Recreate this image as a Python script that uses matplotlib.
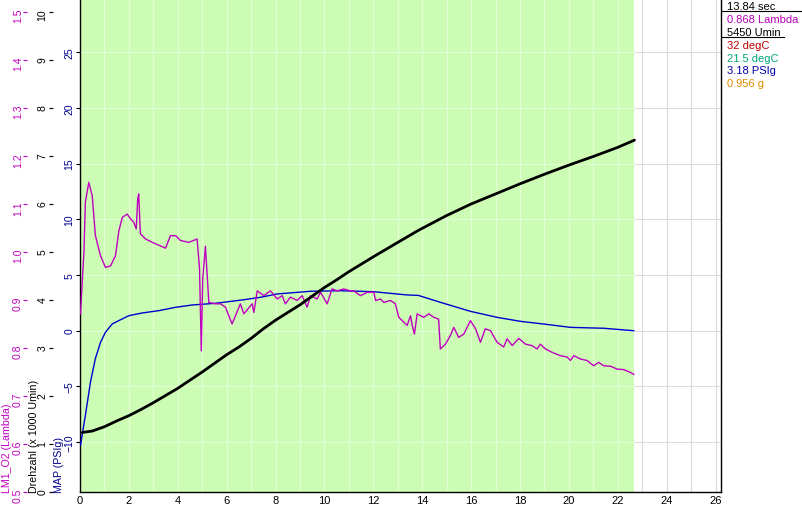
import numpy as np
import matplotlib
matplotlib.use('Agg')
import matplotlib.pyplot as plt
from matplotlib.lines import Line2D

plt.rcParams['font.family'] = ['Liberation Sans', 'DejaVu Sans']

# ---------------- data ----------------
t_end = 22.68  # end of the recording (s)

lam_t = [0.02, 0.16, 0.22, 0.36, 0.50, 0.63, 0.84, 1.04, 1.25, 1.45, 1.59, 1.73, 1.93, 2.07, 2.20,
         2.30, 2.36, 2.40, 2.47, 2.68, 3.09, 3.50, 3.70, 3.91, 4.11, 4.45, 4.79, 4.89, 4.96, 5.02,
         5.13, 5.27, 5.54, 5.75, 5.95, 6.22, 6.56, 6.70, 7.04, 7.11, 7.25, 7.52, 7.79, 8.07, 8.27,
         8.40, 8.61, 8.88, 9.09, 9.29, 9.43, 9.70, 9.84, 10.11, 10.31, 10.52, 10.79, 11.06, 11.20,
         11.47, 11.75, 12.02, 12.09, 12.29, 12.43, 12.70, 12.90, 13.04, 13.24, 13.38, 13.52, 13.59,
         13.68, 13.79, 14.06, 14.27, 14.47, 14.67, 14.74, 14.95, 15.15, 15.29, 15.49, 15.70, 15.97,
         16.18, 16.38, 16.58, 16.79, 17.06, 17.33, 17.47, 17.68, 17.95, 18.22, 18.49, 18.70, 18.83,
         19.04, 19.31, 19.65, 19.93, 20.06, 20.20, 20.47, 20.74, 21.01, 21.22, 21.42, 21.70, 21.97,
         22.24, 22.52, 22.65]
lam_v = [0.871, 0.999, 1.104, 1.145, 1.117, 1.034, 0.992, 0.968, 0.971, 0.992, 1.044, 1.072, 1.079,
         1.069, 1.062, 1.048, 1.110, 1.121, 1.038, 1.027, 1.017, 1.008, 1.034, 1.034, 1.024, 1.020,
         1.027, 0.965, 0.794, 0.944, 1.012, 0.895, 0.892, 0.892, 0.885, 0.850, 0.892, 0.871, 0.892,
         0.874, 0.919, 0.909, 0.919, 0.902, 0.909, 0.892, 0.906, 0.899, 0.909, 0.885, 0.909, 0.902,
         0.916, 0.892, 0.923, 0.919, 0.923, 0.919, 0.919, 0.909, 0.916, 0.916, 0.899, 0.902, 0.895,
         0.899, 0.892, 0.864, 0.854, 0.847, 0.867, 0.847, 0.829, 0.871, 0.864, 0.871, 0.864, 0.860,
         0.798, 0.808, 0.826, 0.843, 0.822, 0.829, 0.857, 0.840, 0.812, 0.840, 0.836, 0.812, 0.802,
         0.819, 0.805, 0.820, 0.808, 0.805, 0.798, 0.808, 0.798, 0.791, 0.784, 0.781, 0.774, 0.784,
         0.777, 0.774, 0.763, 0.770, 0.763, 0.762, 0.756, 0.755, 0.749, 0.745]

rpm_t = [0.09, 0.5, 1.0, 1.5, 2.0, 2.5, 3.0, 3.5, 4.0, 4.5, 5.0, 5.5, 6.0, 6.5, 7.0, 7.5, 8.0,
         8.5, 9.0, 9.5, 10.0, 10.5, 11.0, 12.0, 13.0, 13.84, 15.0, 16.0, 17.0, 18.0, 19.0, 20.0,
         21.0, 22.0, 22.68]
rpm_v = [1.24, 1.27, 1.36, 1.48, 1.59, 1.72, 1.86, 2.01, 2.16, 2.33, 2.50, 2.68, 2.86, 3.02, 3.20,
         3.40, 3.58, 3.74, 3.90, 4.08, 4.26, 4.42, 4.59, 4.90, 5.20, 5.45, 5.76, 6.00, 6.21, 6.42,
         6.62, 6.81, 6.99, 7.18, 7.33]

map_t = [0.02, 0.22, 0.43, 0.63, 0.84, 1.04, 1.32, 1.59, 2.0, 2.54, 3.22, 3.91, 4.59, 5.54, 6.70,
         7.38, 8.07, 9.43, 10.65, 12.02, 13.38, 13.84, 14.74, 15.97, 17.06, 18.02, 18.97, 20.06,
         21.42, 22.65]
map_v = [-10.3, -7.6, -4.6, -2.5, -1.05, -0.15, 0.6, 0.9, 1.34, 1.58, 1.79, 2.09, 2.30, 2.45, 2.77,
         2.99, 3.29, 3.53, 3.58, 3.49, 3.20, 3.16, 2.54, 1.73, 1.19, 0.83, 0.59, 0.29, 0.21, -0.01]

x_ticks = list(range(0, 27, 2))
lam_ticks = [0.5, 0.6, 0.7, 0.8, 0.9, 1.0, 1.1, 1.2, 1.3, 1.4, 1.5]
rpm_ticks = list(range(0, 11))
map_ticks = [-10, -5, 0, 5, 10, 15, 20, 25]

legend_lines = [("13.84 sec", "black"), ("0.868 Lambda", "#b400b4"), ("5450 Umin", "black"),
                ("32 degC", "#c00000"), ("21.5 degC", "#00a878"), ("3.18 PSIg", "#0000a8"),
                ("0.956 g", "#e08a00")]

# ---------------- colours ----------------
GREEN = "#cdfdb5"
MAG = "#c000c0"
BLUE = "#0000d0"
LBLUE = "#00008c"

fig = plt.figure(figsize=(8.02, 5.10), dpi=100)
ax = fig.add_axes([80 / 802, 17 / 510, 641 / 802, 493 / 510])
ax.set_xlim(0, 26.22)
ax.set_ylim(-14.49, 29.77)

# grid + recording background
ax.set_axisbelow(True)
ax.set_xticks(x_ticks)
ax.set_xticks(range(0, 27), minor=True)
ax.set_yticks(map_ticks)
ax.grid(which='both', axis='x', color='#dcdcdc', lw=0.8)
ax.grid(which='major', axis='y', color='#dcdcdc', lw=0.8)
ax.axvspan(0, t_end, color=GREEN, zorder=0.6, lw=0)
ax.vlines([v for v in range(1, 27) if v < t_end], -14.49, 29.77, color='#e3ffd6', lw=0.8, zorder=0.7)
ax.hlines(map_ticks, 0, t_end, color='#e3ffd6', lw=0.8, zorder=0.7)

ax.tick_params(axis='x', which='both', length=0, pad=2, labelsize=8, colors='black')
ax.tick_params(axis='y', length=3, width=0.8, pad=1, labelsize=7.5, labelrotation=90,
               color='black', labelcolor=LBLUE)
for lab in ax.get_yticklabels():
    lab.set_va('center')
for s in ['top']:
    ax.spines[s].set_visible(False)
for s in ['left', 'bottom', 'right']:
    ax.spines[s].set_color('black')
    ax.spines[s].set_linewidth(1.0)

ax.plot(map_t, map_v, color=BLUE, lw=1.0, zorder=3)

# lambda axis
ax_l = ax.twinx()
ax_l.set_ylim(0.5, 1.527)
ax_l.yaxis.tick_left()
ax_l.spines['left'].set_position(('outward', 53 * 0.72))
for s in ax_l.spines.values():
    s.set_visible(False)
ax_l.set_yticks(lam_ticks)
ax_l.set_yticklabels([f"{v:.1f}" for v in lam_ticks])
ax_l.tick_params(axis='y', length=3, width=0.8, pad=0, labelsize=7.5, labelrotation=90,
                 color=MAG, labelcolor=MAG)
ax_l.plot(lam_t, lam_v, color=MAG, lw=1.0, zorder=3)

# rpm axis
ax_r = ax.twinx()
ax_r.set_ylim(0, 10.27)
ax_r.yaxis.tick_left()
ax_r.spines['left'].set_position(('outward', 27 * 0.72))
for s in ax_r.spines.values():
    s.set_visible(False)
ax_r.set_yticks(rpm_ticks)
ax_r.tick_params(axis='y', length=3, width=0.8, pad=1, labelsize=7.5, labelrotation=90,
                 color='black', labelcolor='black')
ax_r.plot(rpm_t, rpm_v, color='black', lw=2.0, zorder=4, solid_capstyle='round')

# axis titles (bottom-anchored, rotated)
fig.text(7 / 802, 17 / 510, "LM1_O2 (Lambda)", rotation=90, color=MAG, fontsize=7.7,
         ha='center', va='bottom')
fig.text(34 / 802, 17 / 510, "Drehzahl (x 1000 Umin)", rotation=90, color='black', fontsize=7.7,
         ha='center', va='bottom')
fig.text(59 / 802, 17 / 510, "MAP (PSIg)", rotation=90, color=LBLUE, fontsize=7.7,
         ha='center', va='bottom')

# cursor value panel
y0 = 7
for i, (txt, col) in enumerate(legend_lines):
    fig.text(727 / 802, 1 - (y0 + i * 12.9) / 510, txt, color=col, fontsize=8,
             ha='left', va='center')
fig.add_artist(Line2D([722 / 802, 1.0], [1 - 12 / 510] * 2, color='black', lw=0.8,
                      transform=fig.transFigure))
fig.add_artist(Line2D([722 / 802, 784 / 802], [1 - 38 / 510] * 2, color='black', lw=0.8,
                      transform=fig.transFigure))

fig.savefig("out.png", dpi=100)
